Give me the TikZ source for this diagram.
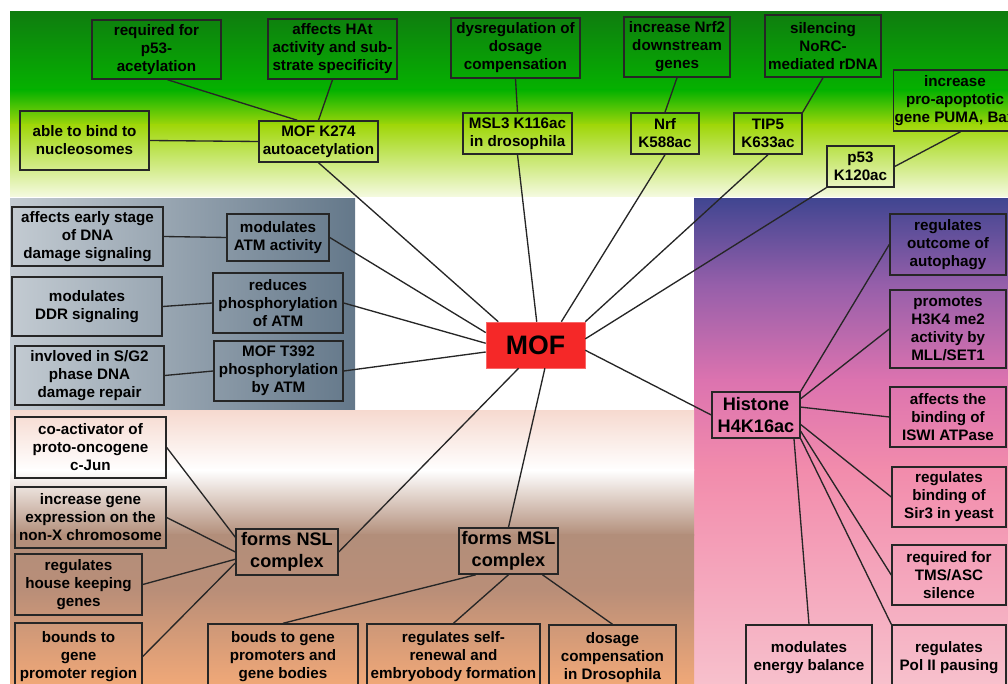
\documentclass[tikz,border=0pt]{standalone}
\usepackage{fontspec}
\setmainfont{Liberation Sans}

\definecolor{grnA}{RGB}{15,125,15}
\definecolor{grnB}{RGB}{5,178,0}
\definecolor{grnC}{RGB}{160,215,10}
\definecolor{grnD}{RGB}{245,250,225}
\definecolor{stlA}{RGB}{195,203,210}
\definecolor{stlB}{RGB}{160,172,182}
\definecolor{stlC}{RGB}{100,120,138}
\definecolor{purA}{RGB}{65,70,145}
\definecolor{purB}{RGB}{150,95,170}
\definecolor{purC}{RGB}{220,115,175}
\definecolor{purD}{RGB}{242,140,172}
\definecolor{purE}{RGB}{247,192,204}
\definecolor{pchA}{RGB}{246,218,208}
\definecolor{pchB}{RGB}{178,142,122}
\definecolor{pchC}{RGB}{185,142,120}
\definecolor{pchD}{RGB}{240,168,120}
\definecolor{mofred}{RGB}{245,40,40}

\begin{document}
\begin{tikzpicture}[
        x=0.75pt, y=-0.75pt,
        fact/.style 2 args={draw=black!85, line width=1.1pt, align=center, inner sep=1pt,
            minimum width=#1*0.75pt, minimum height=#2*0.75pt,
            font=\bfseries\fontsize{11.4}{13.5}\selectfont},
        hub/.style 2 args={fact={#1}{#2}, font=\bfseries\fontsize{13.6}{16.5}\selectfont},
        link/.style={draw=black!85, line width=1pt}
    ]
    \useasboundingbox (0,0) rectangle (1008,684);
    \clip (0,0) rectangle (1008,684);

    % Background bands
    \shade[top color=grnA, bottom color=grnB] (10,12) rectangle (1008,90.5);
    \shade[top color=grnB, bottom color=grnC] (10,90) rectangle (1008,125.5);
    \shade[top color=grnC, bottom color=grnD] (10,125) rectangle (1008,197);
    \shade[left color=stlA, middle color=stlB, right color=stlC] (10,199) rectangle (355,410);
    \shade[top color=purA, bottom color=purB] (694,199) rectangle (1008,285.5);
    \shade[top color=purB, bottom color=purC] (694,285) rectangle (1008,380.5);
    \shade[top color=purC, bottom color=purD] (694,380) rectangle (1008,470.5);
    \shade[top color=purD, bottom color=purE] (694,470) rectangle (1008,684);
    \shade[top color=pchA, bottom color=white] (10,411) rectangle (694,470.5);
    \shade[top color=white, bottom color=pchB] (10,470) rectangle (694,535.5);
    \shade[top color=pchB, bottom color=pchC] (10,535) rectangle (694,590.5);
    \shade[top color=pchC, bottom color=pchD] (10,590) rectangle (694,684);

    % Acetylation targets
    \node[fact={129}{59}] (req) at (156.5,49.5) {required for\\p53-\\acetylation};
    \node[fact={129}{60}] (hat) at (332.5,49) {affects HAt\\activity and sub-\\strate specificity};
    \node[fact={129}{59}] (able) at (84.5,140.5) {able to bind to\\nucleosomes};
    \node[fact={119}{41}] (k274) at (318.5,141.5) {MOF K274\\autoacetylation};
    \node[fact={129}{60}] (dysreg) at (515.5,48) {dysregulation of\\dosage\\compensation};
    \node[fact={109}{41}] (msl3) at (517.5,133.5) {MSL3 K116ac\\in drosophila};
    \node[fact={106}{60}] (nrfup) at (677,47) {increase Nrf2\\downstream\\genes};
    \node[fact={68}{41}] (nrf) at (665,133.5) {Nrf\\K588ac};
    \node[fact={116}{62}] (norc) at (823,46) {silencing\\NoRC-\\mediated rDNA};
    \node[fact={68}{41}] (tip5) at (768,133.5) {TIP5\\K633ac};
    \node[fact={67}{41}] (p53) at (860.5,166.5) {p53\\K120ac};
    \node[fact={122}{61}] (puma) at (955,100.5) {increase\\pro-apoptotic\\gene PUMA, Bax};

    % DNA damage response
    \node[fact={151}{59}] (early) at (87.5,236.5) {affects early stage\\of DNA\\damage signaling};
    \node[fact={102}{47}] (atm) at (278,237.5) {modulates\\ATM activity};
    \node[fact={150}{59}] (ddr) at (87,306.5) {modulates\\DDR signaling};
    \node[fact={130}{60}] (phos) at (278,303) {reduces\\phosphorylation\\of ATM};
    \node[fact={149}{59}] (sg2) at (89.5,375.5) {invloved in S/G2\\phase DNA\\damage repair};
    \node[fact={129}{60}] (t392) at (278.5,371) {MOF T392\\phosphorylation\\by ATM};

    % Centre
    \node[draw=mofred!70!white, fill=mofred, minimum width=99*0.75pt, minimum height=46*0.75pt,
        font=\bfseries\fontsize{20}{24}\selectfont] (mof) at (535.5,345) {MOF};

    % Histone H4K16ac
    \node[hub={88}{46}] (hist) at (756,415) {Histone\\H4K16ac};
    \node[fact={116}{61}] (auto) at (948,244.5) {regulates\\outcome of\\autophagy};
    \node[fact={116}{78}] (h3k4) at (948,329) {promotes\\H3K4 me2\\activity by\\MLL/SET1};
    \node[fact={116}{60}] (iswi) at (948,417) {affects the\\binding of\\ISWI ATPase};
    \node[fact={114}{60}] (sir3) at (949,497) {regulates\\binding of\\Sir3 in yeast};
    \node[fact={114}{60}] (tms) at (949,575) {required for\\TMS/ASC\\silence};
    \node[fact={114}{65}] (pol) at (949,657.5) {regulates\\Pol II pausing};
    \node[fact={126}{65}] (energy) at (809,657.5) {modulates\\energy balance};

    % NSL and MSL complexes
    \node[fact={151}{61}] (coact) at (90.5,447.5) {co-activator of\\proto-oncogene\\c-Jun};
    \node[fact={151}{61}] (nonx) at (90.5,517.5) {increase gene\\expression on the\\non-X chromosome};
    \node[fact={127}{61}] (house) at (78.5,584.5) {regulates\\house keeping\\genes};
    \node[fact={127}{67}] (promreg) at (78.5,656.5) {bounds to\\gene\\promoter region};
    \node[hub={102}{46}] (nsl) at (287,552) {forms NSL\\complex};
    \node[hub={99}{46}] (msl) at (508.5,551) {forms MSL\\complex};
    \node[fact={150}{66}] (bodies) at (283,657) {bouds to gene\\promoters and\\gene bodies};
    \node[fact={173}{66}] (selfr) at (453.5,657) {regulates self-\\renewal and\\embryobody formation};
    \node[fact={127}{65}] (dosage) at (612.5,657.5) {dosage\\compensation\\in Drosophila};

    % Spokes from MOF
    \draw[link] (k274.south) -- (mof.148);
    \draw[link] (msl3.south) -- (mof.87);
    \draw[link] (nrf.south) -- (mof.42);
    \draw[link] (tip5.south) -- (mof.north east);
    \draw[link] (p53.south west) -- (mof.7);
    \draw[link] (atm.east) -- (mof.166);
    \draw[link] (phos.east) -- (mof.178);
    \draw[link] (t392.east) -- (mof.188);
    \draw[link] (nsl.east) -- (mof.234);
    \draw[link] (msl.north) -- (mof.292);
    \draw[link] (hist.west) -- (mof.354);

    % Second level
    \draw[link] (req.-70) -- (k274.135);
    \draw[link] (hat.south) -- (k274.north);
    \draw[link] (able.east) -- (k274.west);
    \draw[link] (dysreg.south) -- (msl3.north);
    \draw[link] (nrfup.south) -- (nrf.north);
    \draw[link] (norc.south) -- (tip5.north east);
    \draw[link] (p53.east) -- (puma.-80);
    \draw[link] (early.east) -- (atm.west);
    \draw[link] (ddr.east) -- (phos.west);
    \draw[link] (sg2.east) -- (t392.west);
    \draw[link] (hist.north east) -- (auto.west);
    \draw[link] (hist.20) -- (h3k4.west);
    \draw[link] (hist.10) -- (iswi.west);
    \draw[link] (hist.-12) -- (sir3.west);
    \draw[link] (hist.-20) -- (tms.west);
    \draw[link] (hist.south east) -- (pol.north west);
    \draw[link] (hist.-32) -- (energy.north);
    \draw[link] (coact.east) -- (nsl.164);
    \draw[link] (nonx.east) -- (nsl.west);
    \draw[link] (house.east) -- (nsl.188);
    \draw[link] (promreg.east) -- (nsl.192);
    \draw[link] (bodies.north) -- (msl.216);
    \draw[link] (selfr.north) -- (msl.south);
    \draw[link] (dosage.north) -- (msl.-35);

\end{tikzpicture}
\end{document}
